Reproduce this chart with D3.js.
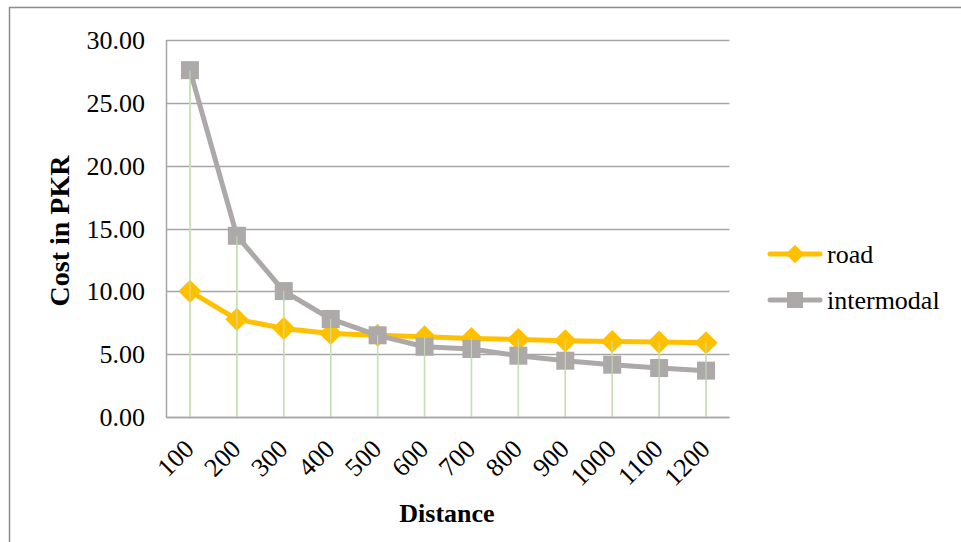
<!DOCTYPE html>
<html><head><meta charset="utf-8">
<script src="https://cdn.jsdelivr.net/npm/d3@7"></script>
<style>
body{margin:0;background:#fff;}
text{font-family:"Liberation Serif","Times New Roman",serif;fill:#000;}
</style></head>
<body>
<svg id="chart" width="961" height="542"></svg>
<script>
const categories = ["100","200","300","400","500","600","700","800","900","1000","1100","1200"];
const road = [10.00,7.77,7.05,6.65,6.50,6.38,6.25,6.17,6.06,6.01,5.96,5.91];
const intermodal = [27.60,14.42,10.02,7.80,6.50,5.59,5.41,4.88,4.48,4.16,3.90,3.69];
const yTicks = [0,5,10,15,20,25,30];
const seriesNames = ["road","intermodal"];
const seriesColors = ["#FFC000","#ADA9A8"];

(function(){
const svg = d3.select("#chart");
svg.append("rect").attr("x",9.5).attr("y",7.5).attr("width",960).attr("height",540)
  .attr("fill","#fff").attr("stroke","#8c8c8c").attr("stroke-width",1.5);

const pLeft=166.5, pRight=729.5, pTop=40, pBottom=417;
const x = d3.scaleBand().domain(categories).range([pLeft,pRight]);
const y = d3.scaleLinear().domain([0,30]).range([pBottom,pTop]);
const cx = d=>x(d)+x.bandwidth()/2;

// gridlines
svg.append("g").selectAll("line").data(yTicks).join("line")
  .attr("x1",pLeft).attr("x2",pRight)
  .attr("y1",d=>Math.round(y(d))+0.5).attr("y2",d=>Math.round(y(d))+0.5)
  .attr("stroke","#a6a6a6").attr("stroke-width",1.5);

// y axis line
svg.append("line").attr("x1",pLeft).attr("x2",pLeft).attr("y1",pTop).attr("y2",pBottom+0.5)
  .attr("stroke","#a6a6a6").attr("stroke-width",1.5);

// y tick labels
svg.append("g").selectAll("text").data(yTicks).join("text")
  .attr("x",145).attr("y",d=>y(d)).attr("dy","0.35em")
  .attr("text-anchor","end").style("font-size","26px")
  .text(d=>d.toFixed(2));

// drop lines
svg.append("g").selectAll("line").data(categories).join("line")
  .attr("x1",cx).attr("x2",cx)
  .attr("y1",(d,i)=>y(Math.max(road[i],intermodal[i])))
  .attr("y2",pBottom)
  .attr("stroke","#c5e0b4").attr("stroke-width",1.5);

const line = d3.line().x(d=>cx(d.c)).y(d=>y(d.v));
const seriesData = [road, intermodal].map(arr=>categories.map((c,i)=>({c, v:arr[i]})));

// road
svg.append("path").datum(seriesData[0]).attr("d",line).attr("fill","none")
  .attr("stroke",seriesColors[0]).attr("stroke-width",5).attr("stroke-linejoin","round");
svg.append("g").selectAll("path").data(seriesData[0]).join("path")
  .attr("d",d3.symbol().type(d3.symbolDiamond2).size(340))
  .attr("transform",d=>`translate(${cx(d.c)},${y(d.v)})`)
  .attr("fill",seriesColors[0]);

// intermodal
svg.append("path").datum(seriesData[1]).attr("d",line).attr("fill","none")
  .attr("stroke",seriesColors[1]).attr("stroke-width",5).attr("stroke-linejoin","round");
svg.append("g").selectAll("rect").data(seriesData[1]).join("rect")
  .attr("x",d=>cx(d.c)-9).attr("y",d=>y(d.v)-9).attr("width",18).attr("height",18)
  .attr("fill",seriesColors[1]);

// drop lines over markers
svg.append("g").selectAll("line").data(categories).join("line")
  .attr("x1",cx).attr("x2",cx)
  .attr("y1",(d,i)=>y(Math.max(road[i],intermodal[i])))
  .attr("y2",pBottom)
  .attr("stroke","#c5e0b4").attr("stroke-width",1.2).attr("opacity",0.8);

// bottom axis line
svg.append("line").attr("x1",pLeft).attr("x2",pRight).attr("y1",pBottom+0.5).attr("y2",pBottom+0.5)
  .attr("stroke","#a6a6a6").attr("stroke-width",1.5);

// x tick labels
svg.append("g").selectAll("text").data(categories).join("text")
  .attr("transform",d=>`translate(${cx(d)-1},444) rotate(-45)`)
  .attr("text-anchor","end").attr("dy","0.35em").style("font-size","26px")
  .text(d=>d);

// axis titles
svg.append("text").attr("x",447).attr("y",522).attr("text-anchor","middle")
  .style("font-size","26px").style("font-weight","bold").text("Distance");
svg.append("text").attr("transform","translate(69,231) rotate(-90)").attr("text-anchor","middle")
  .style("font-size","28px").style("font-weight","bold").text("Cost in PKR");

// legend
const lg = svg.append("g");
seriesNames.forEach((n,i)=>{
  const ly = 254 + i*46;
  lg.append("line").attr("x1",770).attr("x2",820).attr("y1",ly).attr("y2",ly)
    .attr("stroke",seriesColors[i]).attr("stroke-width",5).attr("stroke-linecap","round");
  if(i===0){
    lg.append("path").attr("d",d3.symbol().type(d3.symbolDiamond2).size(220))
      .attr("transform",`translate(795,${ly})`).attr("fill",seriesColors[i]);
  } else {
    lg.append("rect").attr("x",795-8).attr("y",ly-8).attr("width",16).attr("height",16)
      .attr("fill",seriesColors[i]);
  }
  lg.append("text").attr("x",827).attr("y",ly).attr("dy","0.35em")
    .style("font-size","26px").text(n);
});
})();
</script>
</body></html>
